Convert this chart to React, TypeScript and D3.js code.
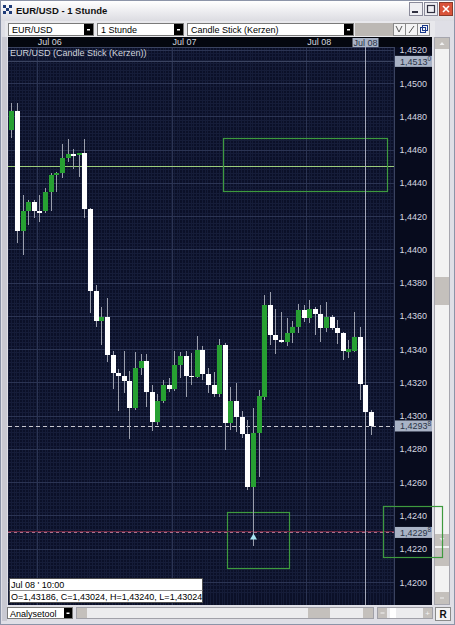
import React from "react";
import * as d3 from "d3";

// ---- data (hourly EUR/USD candles, starting Jul 05 19:00) ----
const START = new Date(2009, 6, 5, 19, 0);
const opens = [
  1.44718, 1.44832, 1.44111, 1.44231, 1.44285, 1.44231, 1.44231, 1.44345, 1.44447, 1.44459,
  1.44549, 1.44573, 1.44567, 1.44579, 1.44243, 1.4375, 1.4357, 1.43594, 1.43366, 1.43258,
  1.4324, 1.4321, 1.43047, 1.43288, 1.4333, 1.43144, 1.42963, 1.43089, 1.43186, 1.43162,
  1.43306, 1.4336, 1.4324, 1.43234, 1.43396, 1.43252, 1.43186, 1.43132, 1.43426, 1.42957,
  1.43089, 1.42993, 1.42891, 1.42572, 1.42897, 1.43114, 1.43666, 1.43486, 1.43456, 1.43444,
  1.43498, 1.43534, 1.43636, 1.43588, 1.43642, 1.43612, 1.43528, 1.43594, 1.43528, 1.43498,
  1.43384, 1.4339, 1.43474, 1.43186, 1.43024,
];
const highs = [
  1.4488, 1.4488, 1.44327, 1.44297, 1.44297, 1.44327, 1.44369, 1.44459, 1.44465, 1.44634,
  1.44664, 1.44604, 1.44579, 1.44664, 1.44249, 1.43786, 1.43654, 1.43708, 1.4339, 1.43282,
  1.4339, 1.4327, 1.43384, 1.43372, 1.43372, 1.43186, 1.43132, 1.43216, 1.43228, 1.4339,
  1.43384, 1.4339, 1.43378, 1.4348, 1.4342, 1.43288, 1.43264, 1.43462, 1.43438, 1.43174,
  1.43198, 1.43029, 1.42975, 1.43047, 1.43156, 1.43726, 1.43744, 1.43642, 1.43624, 1.43588,
  1.4357, 1.43672, 1.43666, 1.43696, 1.43654, 1.43666, 1.43684, 1.43606, 1.43576, 1.43504,
  1.43456, 1.43624, 1.43534, 1.4324, 1.43035,
];
const lows = [
  1.4467, 1.44039, 1.43966, 1.44147, 1.44189, 1.44165, 1.44219, 1.44231, 1.44345, 1.44429,
  1.44525, 1.44483, 1.44435, 1.44189, 1.43618, 1.43534, 1.43426, 1.43324, 1.43162, 1.43029,
  1.43138, 1.42861, 1.43035, 1.43246, 1.43053, 1.42909, 1.42945, 1.43077, 1.43144, 1.4315,
  1.43228, 1.43114, 1.43186, 1.43228, 1.43216, 1.43138, 1.43114, 1.43114, 1.42794, 1.42915,
  1.42903, 1.42867, 1.42554, 1.42215, 1.42632, 1.43095, 1.43426, 1.43372, 1.43438, 1.4342,
  1.43438, 1.43498, 1.43564, 1.43558, 1.43486, 1.43444, 1.43504, 1.43516, 1.43432, 1.43336,
  1.43348, 1.43384, 1.43095, 1.43024, 1.42885,
];
const closes = [
  1.44832, 1.44111, 1.44231, 1.44285, 1.44231, 1.44225, 1.44345, 1.44447, 1.44459, 1.44549,
  1.44573, 1.4457, 1.44579, 1.44243, 1.4375, 1.4357, 1.43594, 1.43366, 1.43258, 1.4324,
  1.4321, 1.43047, 1.43288, 1.4333, 1.43144, 1.42963, 1.43089, 1.43186, 1.43162, 1.43306,
  1.4336, 1.4324, 1.43234, 1.43396, 1.43252, 1.43186, 1.43132, 1.43426, 1.42957, 1.43089,
  1.42993, 1.42891, 1.42572, 1.42897, 1.4312, 1.43666, 1.43486, 1.43456, 1.43444, 1.43498,
  1.43534, 1.43636, 1.43588, 1.43642, 1.43612, 1.43528, 1.43594, 1.43528, 1.43498, 1.4339,
  1.43402, 1.43474, 1.43192, 1.43024, 1.42938,
];
const priceTicks = [
  1.452, 1.45, 1.448, 1.446, 1.444, 1.442, 1.44, 1.438, 1.436, 1.434, 1.432, 1.43, 1.428,
  1.426, 1.424, 1.422, 1.42,
];
const lastClose = 1.42938;
const crossPrice = 1.42298;
const topPrice = 1.4513;
const resistance = 1.445;
const crossIndex = 63;
const markerIndex = 43;
const zoneIdx0 = [37.66, 38.37];
const zoneIdx1 = [66.85, 49.4];
const zoneTop = [1.4467, 1.42422];
const zoneBottom = [1.4435, 1.42085];
const infoTitle = "Jul 08 ' 10:00";

const FONT = "'Liberation Sans', Arial, sans-serif";
const fmt = (p: number) => p.toFixed(4).replace(".", ",");

function PriceFlag({ yv, p }: { yv: number; p: number }) {
  const s = p.toFixed(5).replace(".", ",");
  return (
    <g>
      <rect x={395} y={yv - 5.5} width={37} height={11} fill="#a9b3c6" />
      <text x={400} y={yv + 3.5} fontSize={9} fill="#2a3346" fontFamily={FONT}>
        {s.slice(0, 6)}
        <tspan fontSize={6.5} dy={-3.5}>{s.slice(6)}</tspan>
      </text>
    </g>
  );
}

function Dropdown({ x0, x1, label }: { x0: number; x1: number; label: string }) {
  return (
    <g>
      <rect x={x0 + 0.5} y={23.5} width={x1 - x0 - 1} height={12} fill="#fff" stroke="#7a7a7a" />
      <text x={x0 + 4} y={33} fontSize={9} fill="#000" fontFamily={FONT}>{label}</text>
      <rect x={x1 - 10} y={24} width={9} height={11} fill="#000" />
      <rect x={x1 - 7} y={29} width={3} height={1.5} fill="#fff" />
    </g>
  );
}

export default function App() {
  const x = d3.scaleLinear().domain([-0.6, 68.1]).range([8, 394]);
  const y = d3.scaleLinear().domain([1.42, 1.45]).range([582, 83]);
  const bodyW = 4.6;

  const candles = opens.map((o, i) => ({
    i,
    t: d3.timeHour.offset(START, i),
    o,
    h: highs[i],
    l: lows[i],
    c: closes[i],
  }));

  const allIdx = d3.range(-1, 69);
  const dayStarts = allIdx.filter((i) => d3.timeHour.offset(START, i).getHours() === 0);
  const dayFmt = d3.timeFormat("%b %d");

  const minorH = d3.range(1.4194, 1.4526, 0.0002);
  const minorV = d3.range(-0.6, 68.1, 0.5);

  const plotL = 8,
    plotR = 394,
    plotT = 47,
    plotB = 605;
  const cx = Math.round(x(crossIndex)) + 0.5;
  const cd = candles[crossIndex];
  const f5 = (v: number) => v.toFixed(5).replace(".", ",");

  return (
    <svg
      width={455}
      height={625}
      style={{ position: "absolute", left: 0, top: 0, display: "block" }}
      fontFamily={FONT}
    >
      <defs>
        <linearGradient id="tb" x1="0" y1="0" x2="0" y2="1">
          <stop offset="0" stopColor="#ffffff" />
          <stop offset="1" stopColor="#dcdce2" />
        </linearGradient>
        <clipPath id="plot">
          <rect x={plotL} y={plotT} width={plotR - plotL} height={plotB - plotT} />
        </clipPath>
      </defs>

      {/* window frame */}
      <rect x={0} y={0} width={455} height={625} fill="#dfdfe6" />
      <rect x={0.5} y={0.5} width={454} height={624} fill="none" stroke="#8c94a8" />
      <rect x={2} y={37} width={5} height={584} fill="#c9c9d2" />
      <rect x={1} y={1} width={453} height={20} fill="url(#tb)" />
      {/* title icon */}
      <g fill="#1f3c78">
        <rect x={3} y={5} width={3} height={3} />
        <rect x={9} y={5} width={3} height={3} />
        <rect x={6} y={8} width={3} height={3} />
        <rect x={3} y={11} width={3} height={3} />
        <rect x={9} y={11} width={3} height={3} />
      </g>
      <text x={16} y={14} fontSize={9.5} fontWeight="bold" fill="#101010">EUR/USD - 1 Stunde</text>
      {/* window buttons */}
      <rect x={409.5} y={2.5} width={13} height={13} fill="#eeeef2" stroke="#8a8a9a" />
      <rect x={412} y={11} width={6} height={2} fill="#303040" />
      <rect x={424.5} y={2.5} width={13} height={13} fill="#eeeef2" stroke="#8a8a9a" />
      <rect x={427.5} y={5.5} width={7} height={7} fill="none" stroke="#303040" strokeWidth={1.2} />
      <rect x={439.5} y={2.5} width={13} height={13} fill="#d9533a" stroke="#8a3a2a" />
      <path d="M443,6 L449,12 M449,6 L443,12" stroke="#fff" strokeWidth={1.6} />

      {/* toolbar */}
      <rect x={5} y={21} width={430} height={16} fill="#e8e8ec" />
      <Dropdown x0={8} x1={94} label="EUR/USD" />
      <Dropdown x0={97} x1={184} label="1 Stunde" />
      <Dropdown x0={187} x1={354} label="Candle Stick (Kerzen)" />
      <rect x={355} y={23} width={38} height={13} fill="#bcb8b4" />
      <rect x={393.5} y={23.5} width={12} height={12} fill="#f4f4f4" stroke="#8a8a8a" />
      <rect x={405.5} y={23.5} width={12} height={12} fill="#f4f4f4" stroke="#8a8a8a" />
      <rect x={417.5} y={23.5} width={12} height={12} fill="#f4f4f4" stroke="#8a8a8a" />
      <path d="M396,26 L399,32 L402,26" stroke="#555" fill="none" />
      <path d="M409,33 L414,26" stroke="#555" />
      <rect x={420.5} y={27.5} width={5} height={5} fill="none" stroke="#1a3a8a" />
      <rect x={422.5} y={25.5} width={5} height={5} fill="none" stroke="#1a3a8a" />

      {/* chart background */}
      <rect x={8} y={37} width={424} height={568} fill="#0b1028" />
      <rect x={8} y={37} width={424} height={10} fill="#04070f" />
      <rect x={plotR} y={plotT} width={38} height={plotB - plotT} fill="#070b1d" />

      {/* grid */}
      <g clipPath="url(#plot)">
        {minorH.map((p, k) => (
          <line key={"mh" + k} x1={plotL} x2={plotR} y1={Math.round(y(p)) + 0.5} y2={Math.round(y(p)) + 0.5} stroke="#161d39" />
        ))}
        {minorV.map((v, k) => (
          <line key={"mv" + k} x1={Math.round(x(v)) + 0.5} x2={Math.round(x(v)) + 0.5} y1={plotT} y2={plotB} stroke="#151c38" />
        ))}
        {priceTicks.map((p) => (
          <line key={"gh" + p} x1={plotL} x2={plotR} y1={Math.round(y(p)) + 0.5} y2={Math.round(y(p)) + 0.5} stroke="#2b3453" />
        ))}
        {dayStarts.map((i) => (
          <line key={"gv" + i} x1={Math.round(x(i - 0.5)) + 0.5} x2={Math.round(x(i - 0.5)) + 0.5} y1={plotT} y2={plotB} stroke="#2b3453" />
        ))}
        <line x1={plotL} x2={plotR} y1={Math.round(y(topPrice)) + 0.5} y2={Math.round(y(topPrice)) + 0.5} stroke="#3a4360" />
      </g>
      <line x1={plotL} x2={plotR} y1={plotT + 0.5} y2={plotT + 0.5} stroke="#3a4360" />
      <line x1={plotR + 0.5} x2={plotR + 0.5} y1={plotT} y2={plotB} stroke="#3a4360" />

      {/* date axis */}
      {dayStarts.map((i) => (
        <text key={"dl" + i} x={x(i - 0.5) + 1} y={45} fontSize={9} fill="#d4d6de">
          {dayFmt(d3.timeHour.offset(START, i))}
        </text>
      ))}
      <rect x={cx - 13} y={38} width={26} height={9} fill="#a9b3c6" />
      <text x={cx} y={45.5} fontSize={9} fill="#2a3346" textAnchor="middle">
        {dayFmt(cd.t)}
      </text>

      <text x={10} y={56} fontSize={9} fill="#d2d4de">EUR/USD (Candle Stick (Kerzen))</text>

      {/* resistance line and zones */}
      <line x1={plotL} x2={plotR} y1={Math.round(y(resistance)) + 0.5} y2={Math.round(y(resistance)) + 0.5} stroke="#9ccc7c" />
      {zoneIdx0.map((i0, k) => (
        <rect
          key={"z" + k}
          x={Math.round(x(i0)) + 0.5}
          y={Math.round(y(zoneTop[k])) + 0.5}
          width={Math.round(x(zoneIdx1[k]) - x(i0))}
          height={Math.round(y(zoneBottom[k]) - y(zoneTop[k]))}
          fill="none"
          stroke="#3e9a3e"
          strokeWidth={1.2}
        />
      ))}

      {/* last close and crosshair lines */}
      <line x1={plotL} x2={plotR} y1={Math.round(y(lastClose)) + 0.5} y2={Math.round(y(lastClose)) + 0.5} stroke="#c8c8d0" strokeDasharray="4,3" />
      <line x1={plotL} x2={plotR} y1={Math.round(y(crossPrice)) - 0.5} y2={Math.round(y(crossPrice)) - 0.5} stroke="#6e2842" />
      <line x1={plotL} x2={plotR} y1={Math.round(y(crossPrice)) + 0.5} y2={Math.round(y(crossPrice)) + 0.5} stroke="#a8708e" strokeDasharray="3,3" />
      <line x1={cx} x2={cx} y1={plotT} y2={plotB} stroke="#a4a8b8" />

      {/* candles */}
      <g shapeRendering="crispEdges">
        {candles.map((d) => {
          const xc = Math.round(x(d.i));
          const up = d.c >= d.o;
          const top = y(Math.max(d.o, d.c));
          const bot = y(Math.min(d.o, d.c));
          return (
            <g key={"c" + d.i}>
              <rect x={xc} y={y(d.h)} width={1} height={y(d.l) - y(d.h)} fill="#9a9eac" />
              <rect
                x={xc - bodyW / 2 + 0.5}
                y={top}
                width={bodyW}
                height={Math.max(1.6, bot - top)}
                fill={up ? "#27a032" : "#ffffff"}
              />
            </g>
          );
        })}
      </g>
      <path
        d={`M${Math.round(x(markerIndex)) + 0.5},${y(crossPrice) + 1} l-3.5,6 l7,0 z`}
        fill="#a8e6f2"
      />

      {/* price axis labels */}
      {priceTicks.map((p) => (
        <text key={"pl" + p} x={427} y={y(p) + 3.5} fontSize={9} fill="#d6d8e0" textAnchor="end">
          {fmt(p)}
        </text>
      ))}
      <PriceFlag yv={y(topPrice)} p={topPrice} />
      <PriceFlag yv={y(lastClose)} p={lastClose} />
      <PriceFlag yv={y(crossPrice)} p={crossPrice} />

      {/* info box */}
      <rect x={9.5} y={578.5} width={193} height={24} fill="#ffffff" stroke="#505050" />
      <line x1={9.5} x2={202.5} y1={590.5} y2={590.5} stroke="#909090" />
      <text x={11} y={588} fontSize={9} fill="#000">{infoTitle}</text>
      <text x={11} y={600} fontSize={9} fill="#000">
        {`O=${f5(cd.o)}, C=${f5(cd.c)}, H=${f5(cd.h)}, L=${f5(cd.l)}`}
      </text>

      {/* vertical scrollbar */}
      <rect x={434.5} y={37.5} width={15} height={567} fill="#f2f2f2" stroke="#a6a6ae" />
      <rect x={435} y={38} width={14} height={11} fill="#c4c0bc" />
      <path d="M439.5,45 L442,42 L444.5,45 z" fill="#f0f0f0" />
      <rect x={435} y={277} width={14} height={28} fill="#c4c0bc" />
      <rect x={435} y={534} width={14} height={12} fill="#c4c0bc" />
      <path d="M439.5,538 L442,541 L444.5,538 z" fill="#f0f0f0" />
      <rect x={435} y={548} width={14} height={18} fill="#c4c0bc" />
      <rect x={435} y={592} width={14} height={12} fill="#c4c0bc" />
      <rect x={440} y={597.5} width={4} height={1} fill="#f0f0f0" />

      {/* bottom bar */}
      <rect x={7.5} y={607.5} width={65} height={11} fill="#ffffff" stroke="#7a7a7a" />
      <text x={10} y={616.5} fontSize={9} fill="#000">Analysetool</text>
      <rect x={64} y={608} width={8} height={10} fill="#000" />
      <rect x={66.5} y={612.5} width={3} height={1.5} fill="#fff" />
      <rect x={76.5} y={607.5} width={297} height={11} fill="#ececee" stroke="#a0a0a8" />
      <rect x={77} y={608} width={10} height={10} fill="#c4c0bc" />
      <rect x={308} y={608} width={22} height={10} fill="#c4c0bc" />
      <rect x={363} y={608} width={10} height={10} fill="#c4c0bc" />
      <rect x={377.5} y={607.5} width={55} height={11} fill="#ececee" stroke="#a0a0a8" />
      <rect x={378} y={608} width={9} height={10} fill="#c4c0bc" />
      <rect x={380.5} y={612.5} width={4} height={1} fill="#f4f4f4" />
      <rect x={390} y={608} width={6} height={10} fill="#ffffff" />
      <rect x={423} y={608} width={9} height={10} fill="#c4c0bc" />
      <text x={427.5} y={616} fontSize={8} fill="#f4f4f4" textAnchor="middle">+</text>
      <rect x={435.5} y={607.5} width={15} height={13} fill="#f4f4f4" stroke="#8a8a8a" />
      <text x={443} y={618} fontSize={10} fontWeight="bold" fill="#101010" textAnchor="middle">R</text>
      <rect x={383.5} y={506.5} width={59} height={51} fill="none" stroke="#3e9a3e" strokeWidth={1.2} />
    </svg>
  );
}
